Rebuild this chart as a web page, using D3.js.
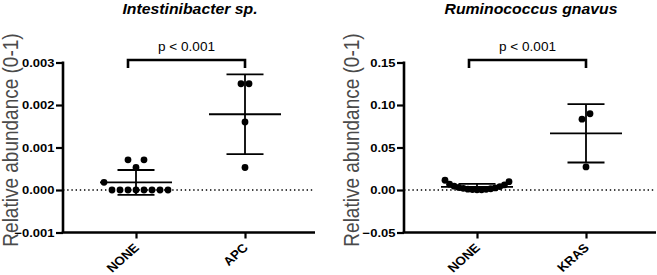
<!DOCTYPE html>
<html>
<head>
<meta charset="utf-8">
<script src="https://cdn.jsdelivr.net/npm/d3@7"></script>
<style>
  html, body { margin: 0; padding: 0; background: #fff; }
  svg { display: block; font-family: "Liberation Sans", Arial, sans-serif; }
</style>
</head>
<body>
<svg id="chart" width="657" height="275"></svg>
<script>
// ---------- DATA ----------
const leftTitle = "Intestinibacter sp.";
const leftCategories = ["NONE", "APC"];
const leftNone = [0, 0, 0, 0, 0, 0, 0, 0, 0.00018, 0.00053, 0.00071, 0.00071];
const leftApc = [0.0025, 0.0025, 0.0016, 0.00053];
const leftTicks = [-0.001, 0.000, 0.001, 0.002, 0.003];
const leftDomain = [-0.001, 0.003];
const leftTickFormat = "0.000";

const rightTitle = "Ruminococcus gnavus";
const rightCategories = ["NONE", "KRAS"];
const rightNone = [0.0115, 0.0098, 0.0068, 0.006, 0.0045, 0.004, 0.003, 0.0025, 0.002, 0.0015, 0.001, 0.0008, 0.0005, 0.0003, 0.0002];
const rightKras = [0.0897, 0.0833, 0.0272];
const rightTicks = [-0.05, 0.00, 0.05, 0.10, 0.15];
const rightDomain = [-0.05, 0.15];
const rightTickFormat = "0.00";

const pLabel = "p < 0.001";
const yAxisLabel = "Relative abundance (0-1)";

// ---------- LAYOUT ----------
const svg = d3.select("#chart");
const STRETCH = 1.13;

function drawPanel(opts) {
  const { x0, title, categories, groups, ticks, domain, decimals } = opts;
  const g = svg.append("g");
  const axisLeft = x0, axisRight = x0 + 252;
  const yTop = 62.5, yBot = 232.5;

  const y = d3.scaleLinear().domain(domain).range([yBot, yTop]);
  const x = d3.scalePoint().domain(categories).range([x0 + 73, x0 + 182]);

  // zero dotted line
  g.append("line")
    .attr("x1", axisLeft).attr("x2", axisRight)
    .attr("y1", y(0)).attr("y2", y(0))
    .attr("stroke", "#000").attr("stroke-width", 1.4)
    .attr("stroke-dasharray", "1.4,2.8");

  // y axis
  const yAxis = d3.axisLeft(y).tickValues(ticks).tickSize(7).tickPadding(1.5)
    .tickFormat(d3.format("." + decimals + "f"));
  const ya = g.append("g").attr("transform", `translate(${axisLeft},0)`).call(yAxis);
  ya.select(".domain").attr("stroke", "#000").attr("stroke-width", 2.6)
    .attr("d", `M0,${yTop - 1}V${yBot}`);
  ya.selectAll(".tick line").attr("stroke", "#000").attr("stroke-width", 2.2);
  ya.selectAll(".tick text")
    .attr("fill", "#000").attr("font-size", 11.5).attr("font-weight", "bold")
    .attr("font-family", "Liberation Sans, Arial, sans-serif")
    .each(function () {
      const t = d3.select(this);
      const xx = +t.attr("x");
      t.attr("x", null).attr("transform", `translate(${xx},0) scale(${STRETCH},1)`);
    });

  // x axis
  const xAxis = d3.axisBottom(x).tickSize(6).tickFormat("");
  const xa = g.append("g").attr("transform", `translate(0,${yBot})`).call(xAxis);
  xa.select(".domain").attr("stroke", "#000").attr("stroke-width", 2.6)
    .attr("d", `M${axisLeft - 1.3},0H${axisRight}`);
  xa.selectAll(".tick line").attr("stroke", "#000").attr("stroke-width", 2.2);

  // category labels
  g.selectAll(".cat").data(categories).enter().append("text")
    .attr("class", "cat")
    .attr("transform", d => `translate(${x(d) + 4},${yBot + 16}) scale(${STRETCH},1) rotate(-45)`)
    .attr("text-anchor", "end")
    .attr("font-size", 12).attr("font-weight", "bold")
    .text(d => d);

  // title
  g.append("text")
    .attr("transform", `translate(${x0 + 127},14) scale(${STRETCH},1)`)
    .attr("text-anchor", "middle")
    .attr("font-size", 14).attr("font-weight", "bold").attr("font-style", "italic")
    .text(title);

  // y label
  g.append("text")
    .attr("transform", `translate(${x0 - 45},140) scale(${STRETCH},1) rotate(-90)`)
    .attr("text-anchor", "middle")
    .attr("fill", "#4a4a4a")
    .attr("font-size", 19)
    .text(yAxisLabel);

  // bracket & p label
  const bx1 = x(categories[0]) - 8, bx2 = x(categories[1]);
  const bTop = 60, bLeg = 68;
  g.append("path")
    .attr("d", `M${bx1},${bLeg}V${bTop}H${bx2}V${bLeg}`)
    .attr("fill", "none").attr("stroke", "#000").attr("stroke-width", 2.6);
  g.append("text")
    .attr("transform", `translate(${(bx1 + bx2) / 2},51) scale(${STRETCH},1)`)
    .attr("text-anchor", "middle").attr("font-size", 12)
    .text(pLabel);

  // groups
  const D = 8, MAXW = 64;
  groups.forEach((vals, gi) => {
    const cx = x(categories[gi]);
    const mean = d3.mean(vals), sd = d3.deviation(vals);

    // error bars
    g.append("line").attr("x1", cx).attr("x2", cx)
      .attr("y1", y(mean + sd)).attr("y2", y(mean - sd))
      .attr("stroke", "#000").attr("stroke-width", 1.8);
    [[mean, 36], [mean + sd, 18.5], [mean - sd, 18.5]].forEach(([v, hw]) => {
      g.append("line").attr("x1", cx - hw).attr("x2", cx + hw)
        .attr("y1", y(v)).attr("y2", y(v))
        .attr("stroke", "#000").attr("stroke-width", 1.8);
    });

    // swarm layout: cluster sorted values by pixel gap, spread from center outward
    const sorted = vals.slice().sort((a, b) => a - b);
    const clusters = [];
    sorted.forEach((v, i) => {
      if (i === 0 || Math.abs(y(v) - y(sorted[i - 1])) >= D) clusters.push([v]);
      else clusters[clusters.length - 1].push(v);
    });
    const pts = [];
    clusters.forEach(cl => {
      const n = cl.length;
      const step = n > 1 ? Math.min(D, MAXW / (n - 1)) : 0;
      const slots = cl.map((v, i) => i === 0 ? 0 : (i % 2 ? (i + 1) / 2 : -i / 2));
      const mid = (d3.max(slots) + d3.min(slots)) / 2;
      cl.forEach((v, i) => pts.push({ v, dx: (slots[i] - mid) * step }));
    });
    g.selectAll(null).data(pts).enter().append("circle")
      .attr("cx", d => cx + d.dx).attr("cy", d => y(d.v))
      .attr("r", 3.4).attr("fill", "#000");
  });
}

drawPanel({
  x0: 63, title: leftTitle, categories: leftCategories,
  groups: [leftNone, leftApc], ticks: leftTicks, domain: leftDomain,
  decimals: leftTickFormat.split(".")[1].length
});
drawPanel({
  x0: 404, title: rightTitle, categories: rightCategories,
  groups: [rightNone, rightKras], ticks: rightTicks, domain: rightDomain,
  decimals: rightTickFormat.split(".")[1].length
});
</script>
</body>
</html>
